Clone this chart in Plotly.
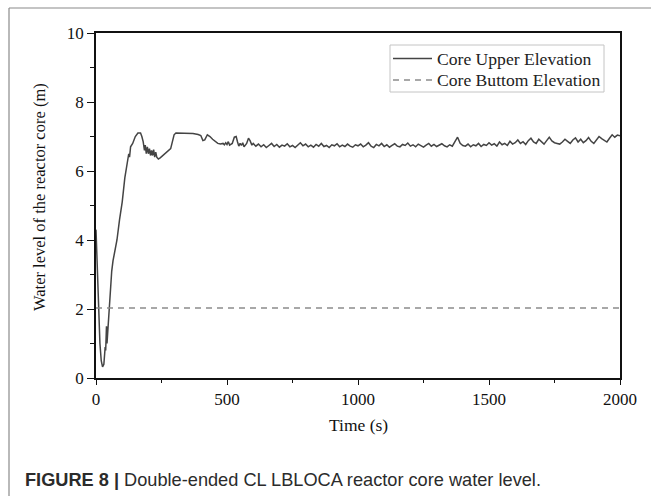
import plotly.graph_objects as go

# ---- data ----
time_early = [0, 5, 10, 15, 20, 25, 30, 35, 37, 40, 42, 45, 50, 55, 60, 65, 70, 80, 90, 100,
              110, 115, 120, 125, 128, 132, 140, 150, 160, 170, 175, 180, 185, 188, 192, 196,
              200, 204, 208, 212, 216, 220, 224, 228, 232, 238, 245, 255, 265, 275, 285, 290,
              298, 305, 340, 370, 390, 400, 408, 415, 425, 435, 445, 455, 465, 475, 485, 490,
              495, 500, 505, 510, 520, 528, 535, 540, 545, 550, 555, 560, 565, 575, 582, 588,
              595, 600]
level_early = [4.3, 3.0, 1.8, 1.0, 0.5, 0.32, 0.4, 0.9, 0.8, 1.5, 1.0, 1.4, 2.0, 2.6, 3.1, 3.4,
               3.6, 4.0, 4.6, 5.1, 5.8, 6.0, 6.3, 6.5, 6.4, 6.7, 6.8, 7.0, 7.1, 7.1, 7.0, 6.85,
               6.6, 6.75, 6.5, 6.7, 6.5, 6.65, 6.45, 6.6, 6.45, 6.62, 6.4, 6.55, 6.4, 6.35, 6.38,
               6.45, 6.52, 6.6, 6.65, 6.8, 7.05, 7.1, 7.1, 7.09, 7.06, 7.03, 6.88, 6.9, 7.05, 7.0,
               6.92, 6.85, 6.8, 6.78, 6.8, 6.76, 6.82, 6.77, 6.85, 6.75, 6.8, 6.98, 7.0, 6.85,
               6.72, 6.8, 6.74, 6.82, 6.7, 6.8, 6.95, 6.88, 6.75, 6.8]
time_late = list(range(610, 2001, 10))
level_late = [
    6.72, 6.78, 6.70, 6.76, 6.68, 6.74, 6.80, 6.71, 6.77, 6.69, 6.75, 6.72, 6.79, 6.70, 6.74,
    6.68, 6.76, 6.82, 6.73, 6.78, 6.70, 6.75, 6.69, 6.77, 6.72, 6.80, 6.71, 6.74, 6.68, 6.76,
    6.73, 6.79, 6.70, 6.75, 6.71, 6.78, 6.72, 6.69, 6.76, 6.73,
    6.78, 6.70, 6.75, 6.82, 6.72, 6.68, 6.77, 6.73, 6.80, 6.71, 6.76, 6.69, 6.74, 6.79, 6.72,
    6.70, 6.77, 6.74, 6.81, 6.72, 6.76, 6.70, 6.78, 6.73, 6.69, 6.75, 6.80, 6.72, 6.77, 6.71,
    6.74, 6.79, 6.73, 6.70, 6.76, 6.72, 6.85, 6.98, 6.80, 6.74,
    6.72, 6.78, 6.70, 6.76, 6.73, 6.80, 6.71, 6.77, 6.74, 6.82, 6.75, 6.79, 6.72, 6.84, 6.76,
    6.80, 6.74, 6.86, 6.78, 6.82, 6.90, 6.80, 6.85, 6.77, 6.88, 6.95, 6.84, 6.80, 6.92, 6.86,
    6.78, 6.88, 6.98, 6.87, 6.82, 6.80, 6.78, 6.84, 6.92, 6.86,
    6.80, 6.90, 6.96, 6.84, 6.92, 6.82, 6.88, 6.97, 6.86, 6.80, 6.90, 7.00, 6.94, 6.88, 6.84,
    6.95, 7.05, 6.98, 7.04, 7.02]
time_upper = time_early + time_late
level_upper = level_early + level_late

time_bottom = [0, 2000]
level_bottom = [2.03, 2.03]

x_ticks = [0, 500, 1000, 1500, 2000]
y_ticks = [0, 2, 4, 6, 8, 10]

names = ["Core Upper Elevation", "Core Buttom Elevation"]
x_title = "Time (s)"
y_title = "Water level of the reactor core (m)"
caption = "<b>FIGURE 8 |</b> Double-ended CL LBLOCA reactor core water level."

# ---- layout helpers (pixel -> paper) ----
W, H = 651, 496
L, R, T, B = 96, 620, 33, 378
def px(x):
    return (x - L) / (R - L)
def py(y):
    return (B - y) / (B - T)

serif = "Liberation Serif, Times New Roman, serif"
upper_color = "#444444"
bottom_color = "#8c8c8c"

fig = go.Figure()
fig.add_trace(go.Scatter(x=time_upper, y=level_upper, mode="lines", name=names[0],
                         line=dict(color=upper_color, width=1.5), showlegend=False))
fig.add_trace(go.Scatter(x=time_bottom, y=level_bottom, mode="lines", name=names[1],
                         line=dict(color=bottom_color, width=1.4, dash="6px,5px"),
                         showlegend=False))

axis_common = dict(showgrid=False, zeroline=False, showline=True, linecolor="#111",
                   linewidth=1.5, mirror=True, ticks="outside", tickwidth=1.3,
                   tickcolor="#111", tickfont=dict(family=serif, size=17, color="#111"))
fig.update_xaxes(range=[0, 2000], tickvals=x_ticks, ticklen=5,
                 minor=dict(tickvals=[250, 750, 1250, 1750], ticks="outside", ticklen=3,
                            tickwidth=1.2, tickcolor="#111"),
                 **axis_common)
fig.update_yaxes(range=[0, 10], tickvals=y_ticks, ticklen=7,
                 minor=dict(tickvals=[1, 3, 5, 7, 9], ticks="outside", ticklen=4,
                            tickwidth=1.2, tickcolor="#111"),
                 **axis_common)

# manual legend (box + samples + labels)
leg_font = dict(family=serif, size=17.6, color="#222")
shapes = [
    dict(type="line", xref="paper", yref="paper", x0=px(9), x1=px(660), y0=py(8), y1=py(8),
         line=dict(color="#8a8a8a", width=1.2)),
    dict(type="line", xref="paper", yref="paper", x0=px(9), x1=px(9), y0=py(8), y1=py(510),
         line=dict(color="#8a8a8a", width=1.2)),
    dict(type="rect", xref="paper", yref="paper", x0=px(390), x1=px(604), y0=py(45), y1=py(92),
         line=dict(color="#c4c4c4", width=1), fillcolor="white", layer="above"),
    dict(type="line", xref="paper", yref="paper", x0=px(393), x1=px(432), y0=py(58.5), y1=py(58.5),
         line=dict(color=upper_color, width=1.4), layer="above"),
    dict(type="line", xref="paper", yref="paper", x0=px(393), x1=px(432), y0=py(80), y1=py(80),
         line=dict(color=bottom_color, width=1.4, dash="6px,5px"), layer="above"),
]

annotations = [
    dict(text=names[0], x=px(435), y=py(59), xref="paper", yref="paper", showarrow=False,
         xanchor="left", yanchor="middle", font=leg_font),
    dict(text=names[1], x=px(435), y=py(80.5), xref="paper", yref="paper", showarrow=False,
         xanchor="left", yanchor="middle", font=leg_font),
    dict(text=x_title, x=0.5, y=py(425), xref="paper", yref="paper",
         showarrow=False, xanchor="center", yanchor="middle",
         font=dict(family=serif, size=17.5, color="#111")),
    dict(text=y_title, x=px(40), y=py(197), xref="paper", yref="paper",
         showarrow=False, xanchor="center", yanchor="middle", textangle=-90,
         font=dict(family=serif, size=16.5, color="#111")),
    dict(text=caption, x=px(23), y=py(480), xref="paper", yref="paper",
         showarrow=False, xanchor="left", yanchor="middle",
         font=dict(family="Liberation Sans, Arial, sans-serif", size=18.2, color="#2b2b2b")),
]

fig.update_layout(
    width=W, height=H,
    margin=dict(l=L, r=W - R, t=T, b=H - B, autoexpand=False),
    paper_bgcolor="white", plot_bgcolor="white",
    showlegend=False,
    annotations=annotations,
    shapes=shapes,
)

fig.write_html("out.html", config={"displayModeBar": False},
               post_script="document.body.style.margin='0';")
